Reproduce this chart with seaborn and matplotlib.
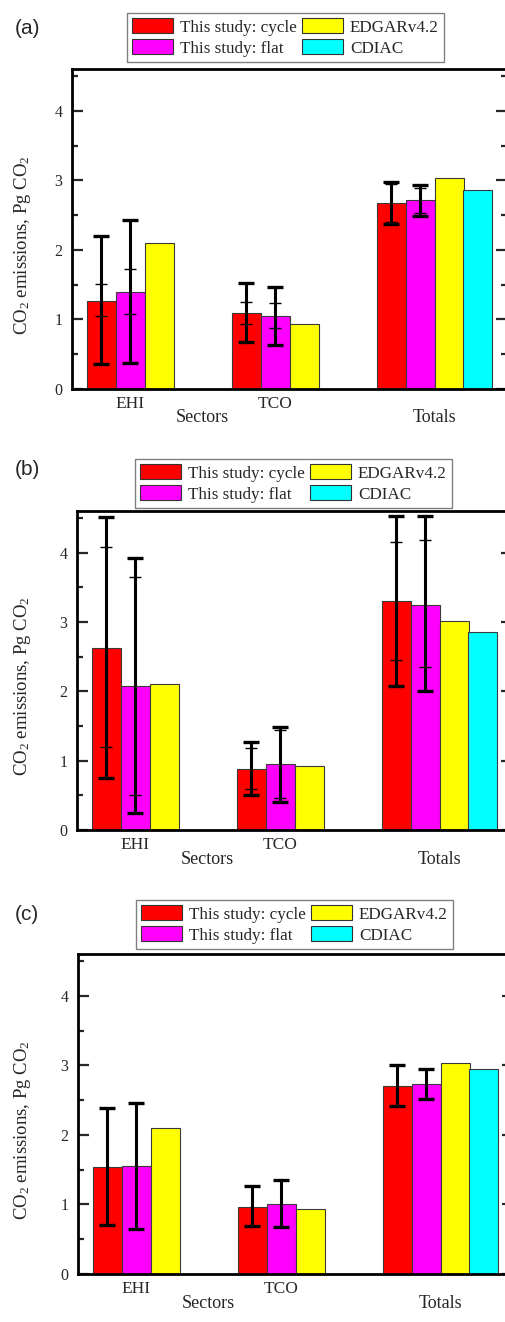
import numpy as np
import pandas as pd
import matplotlib
matplotlib.use("Agg")
import matplotlib.pyplot as plt
from matplotlib.patches import Patch
import seaborn as sns

# ---------------- data ----------------
sectors = ["EHI", "TCO", "Totals"]
sources = ["This study: cycle", "This study: flat", "EDGARv4.2", "CDIAC"]
colors = ["#FF0000", "#FF00FF", "#FFFF00", "#00FFFF"]
panel_labels = ["(a)", "(b)", "(c)"]

# panel (a)
a_cycle = [1.27, 1.09, 2.67]
a_flat = [1.40, 1.05, 2.71]
a_edgar = [2.10, 0.93, 3.03]
a_cdiac = [None, None, 2.86]
a_cycle_outer_lo = [0.36, 0.67, 2.37]
a_cycle_outer_hi = [2.20, 1.52, 2.97]
a_cycle_inner_lo = [1.05, 0.93, 2.40]
a_cycle_inner_hi = [1.51, 1.25, 2.95]
a_flat_outer_lo = [0.37, 0.63, 2.49]
a_flat_outer_hi = [2.43, 1.47, 2.93]
a_flat_inner_lo = [1.08, 0.87, 2.53]
a_flat_inner_hi = [1.73, 1.24, 2.89]

# panel (b)
b_cycle = [2.63, 0.88, 3.30]
b_flat = [2.08, 0.95, 3.25]
b_edgar = [2.10, 0.93, 3.02]
b_cdiac = [None, None, 2.85]
b_cycle_outer_lo = [0.75, 0.50, 2.08]
b_cycle_outer_hi = [4.52, 1.27, 4.53]
b_cycle_inner_lo = [1.19, 0.59, 2.45]
b_cycle_inner_hi = [4.08, 1.18, 4.16]
b_flat_outer_lo = [0.24, 0.41, 2.00]
b_flat_outer_hi = [3.92, 1.49, 4.53]
b_flat_inner_lo = [0.51, 0.46, 2.35]
b_flat_inner_hi = [3.65, 1.44, 4.18]

# panel (c)
c_cycle = [1.54, 0.97, 2.70]
c_flat = [1.55, 1.01, 2.73]
c_edgar = [2.10, 0.93, 3.03]
c_cdiac = [None, None, 2.95]
c_cycle_err_lo = [0.71, 0.69, 2.42]
c_cycle_err_hi = [2.38, 1.26, 3.00]
c_flat_err_lo = [0.65, 0.68, 2.52]
c_flat_err_hi = [2.46, 1.35, 2.94]

panels = [
    dict(values=[a_cycle, a_flat, a_edgar, a_cdiac],
         outer=[(a_cycle_outer_lo, a_cycle_outer_hi), (a_flat_outer_lo, a_flat_outer_hi)],
         inner=[(a_cycle_inner_lo, a_cycle_inner_hi), (a_flat_inner_lo, a_flat_inner_hi)]),
    dict(values=[b_cycle, b_flat, b_edgar, b_cdiac],
         outer=[(b_cycle_outer_lo, b_cycle_outer_hi), (b_flat_outer_lo, b_flat_outer_hi)],
         inner=[(b_cycle_inner_lo, b_cycle_inner_hi), (b_flat_inner_lo, b_flat_inner_hi)]),
    dict(values=[c_cycle, c_flat, c_edgar, c_cdiac],
         outer=[(c_cycle_err_lo, c_cycle_err_hi), (c_flat_err_lo, c_flat_err_hi)],
         inner=None),
]

# ---------------- style ----------------
sns.set_style("white")
plt.rcParams["font.family"] = ["Liberation Serif", "DejaVu Serif"]
plt.rcParams["mathtext.fontset"] = "custom"
plt.rcParams["mathtext.rm"] = "Liberation Serif"
plt.rcParams["mathtext.it"] = "Liberation Serif:italic"
plt.rcParams["mathtext.bf"] = "Liberation Serif:bold"

W, H = 505, 1322
fig = plt.figure(figsize=(W / 100, H / 100), dpi=100)

# axes boxes in pixels: left, top, bottom
boxes = [(72, 69, 389), (77, 511, 830), (78, 954, 1274)]
ax_w = 435
legend_boxes = [(127, 13), (135, 459), (136, 900)]
label_y = [29, 470, 915]

for k, (pdata, (l, t, b)) in enumerate(zip(panels, boxes)):
    ax = fig.add_axes([l / W, 1 - b / H, ax_w / W, (b - t) / H])
    rows = []
    for src, vals in zip(sources, pdata["values"]):
        for sec, v in zip(sectors, vals):
            if v is not None:
                rows.append(dict(sector=sec, source=src, value=v))
    df = pd.DataFrame(rows)
    sns.barplot(data=df, x="sector", y="value", hue="source",
                order=sectors, hue_order=sources, palette=colors,
                saturation=1, width=0.8, errorbar=None, legend=False,
                edgecolor="#3a3a3a", linewidth=0.8, ax=ax, zorder=2)

    # bar centres per hue from the drawn patches
    centers = {}
    for hi, cont in enumerate(ax.containers[:2]):
        for bar in cont:
            cx = bar.get_x() + bar.get_width() / 2
            centers[(hi, int(round(cx)))] = cx

    for hi in range(2):
        vals = pdata["values"][hi]
        lo, hi_ = pdata["outer"][hi]
        xs = [centers[(hi, i)] for i in range(3)]
        yerr = [np.array(vals) - np.array(lo), np.array(hi_) - np.array(vals)]
        ax.errorbar(xs, vals, yerr=yerr, fmt="none", ecolor="black",
                    elinewidth=2.2, capsize=5.8, capthick=2.4, zorder=4)
        if pdata["inner"] is not None:
            lo2, hi2 = pdata["inner"][hi]
            yerr2 = [np.array(vals) - np.array(lo2), np.array(hi2) - np.array(vals)]
            ax.errorbar(xs, vals, yerr=yerr2, fmt="none", ecolor="black",
                        elinewidth=1.0, capsize=4.0, capthick=1.0, zorder=4)

    ax.set_xlim(-0.5, 2.5)
    ax.set_ylim(0, 4.6)
    ax.set_yticks([0, 1, 2, 3, 4])
    ax.set_yticks(np.arange(0.5, 4.6, 1.0), minor=True)
    ax.set_xticks([0 - 0.1, 1 - 0.1])
    ax.set_xticklabels(["EHI", "TCO"])
    ax.tick_params(axis="x", length=0, pad=5, labelsize=12.5)
    ax.tick_params(axis="y", which="both", direction="in", left=True, right=True,
                   width=1.6, labelsize=11.5, pad=7)
    ax.tick_params(axis="y", which="major", length=8)
    ax.tick_params(axis="y", which="minor", length=4)
    for sp in ax.spines.values():
        sp.set_linewidth(2)
        sp.set_color("black")
    ax.set_xlabel("")
    ax.set_ylabel("CO$_2$ emissions, Pg CO$_2$", fontsize=13.5)
    ax.yaxis.set_label_coords(-(l - 33) / ax_w, 0.45)

    ax.annotate("Sectors", xy=(0.4, 0), xycoords=("data", "axes fraction"),
                xytext=(0, -29), textcoords="offset pixels",
                ha="center", va="center", fontsize=13)
    ax.annotate("Totals", xy=(2.0, 0), xycoords=("data", "axes fraction"),
                xytext=(0, -29), textcoords="offset pixels",
                ha="center", va="center", fontsize=13)

    handles = [Patch(facecolor=c, edgecolor="#333333", linewidth=0.8) for c in colors]
    lx, ly = legend_boxes[k]
    leg = ax.legend(handles, sources, ncol=2, loc="upper left",
                    bbox_to_anchor=(lx / W, 1 - ly / H), bbox_transform=fig.transFigure,
                    borderaxespad=0, fontsize=12.3, frameon=True, fancybox=False,
                    framealpha=1, edgecolor="#808080", handlelength=2.4,
                    handleheight=1.0, handletextpad=0.4, columnspacing=0.3,
                    labelspacing=0.2, borderpad=0.3)
    leg.get_frame().set_linewidth(1.0)

    fig.text(15 / W, 1 - label_y[k] / H, panel_labels[k], fontsize=15,
             family="Liberation Sans", ha="left", va="center")

fig.savefig("out.png", dpi=100)
